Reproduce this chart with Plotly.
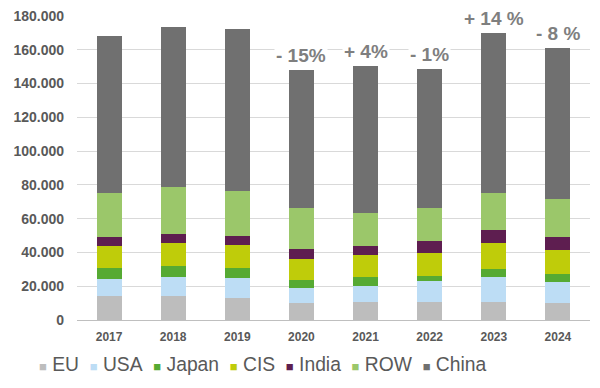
import plotly.graph_objects as go

years = ["2017", "2018", "2019", "2020", "2021", "2022", "2023", "2024"]
eu    = [14200, 14200, 13000, 10300, 10500, 10900, 10900, 9900]
usa   = [10300, 11500, 11700, 8800, 9800, 12000, 14400, 12600]
japan = [6100, 6500, 5900, 4600, 5400, 3300, 5100, 4900]
cis   = [13200, 13200, 13600, 12400, 12600, 13300, 15000, 13800]
india = [5100, 5300, 5700, 6100, 5700, 7500, 8100, 8100]
row   = [26500, 27800, 26300, 23900, 19500, 19500, 21900, 22100]
china = [92900, 94800, 96100, 81700, 86700, 82100, 94700, 89400]
change_labels = {"2020": "- 15%", "2021": "+ 4%", "2022": "- 1%", "2023": "+ 14 %", "2024": "- 8 %"}

series = [
    ("EU", eu, "#BDBDBD"),
    ("USA", usa, "#BDDDF5"),
    ("Japan", japan, "#56AA33"),
    ("CIS", cis, "#BFCC0A"),
    ("India", india, "#5E1E50"),
    ("ROW", row, "#9BC76A"),
    ("China", china, "#707070"),
]

FONT = "Liberation Sans, Arial"

fig = go.Figure()
for name, vals, col in series:
    fig.add_trace(go.Bar(x=years, y=vals, name=name, marker_color=col,
                         marker_line_width=0, showlegend=False))

totals = [sum(v[i] for _, v, _ in series) for i in range(len(years))]
for i, yr in enumerate(years):
    if yr in change_labels:
        fig.add_annotation(x=i, y=totals[i], yanchor="bottom", yshift=2,
                           text="<b>" + change_labels[yr] + "</b>", showarrow=False,
                           bgcolor="white", borderpad=1,
                           font=dict(family=FONT, size=19, color="#7F7F7F"))

# compact legend row (squares + names), like the reference
parts = []
for name, _, col in series:
    parts.append("<span style='color:%s;font-size:13px'>■</span>&nbsp;%s" % (col, name))
legend_text = "&nbsp;&nbsp;".join(parts)
fig.add_annotation(xref="paper", yref="paper", x=0.362, y=-0.148,
                   xanchor="center", yanchor="middle", showarrow=False,
                   text=legend_text, font=dict(family=FONT, size=19.3, color="#595959"))

fig.update_layout(
    barmode="stack",
    bargap=0.61,
    width=600, height=388,
    margin=dict(l=77, r=10, t=16, b=68, autoexpand=False),
    paper_bgcolor="white", plot_bgcolor="white",
    separators=",.",
    font=dict(family=FONT, color="#595959"),
    showlegend=False,
)
fig.update_yaxes(range=[0, 180000], dtick=20000, tickformat=",d",
                 showgrid=True, gridcolor="#D9D9D9", gridwidth=1,
                 zeroline=False, showline=False, automargin=False,
                 ticklabelstandoff=12,
                 tickfont=dict(size=14, color="#595959", family=FONT, weight="bold"))
fig.update_xaxes(type="category", range=[-0.5, 7.5], automargin=False,
                 showline=True, linecolor="#BFBFBF", linewidth=1,
                 ticks="", ticklabelstandoff=6,
                 tickfont=dict(size=12, color="#595959", family=FONT, weight="bold"))

fig.write_html("out.html", config={"displayModeBar": False},
               post_script="document.body.style.margin='0';document.body.style.padding='0';")
